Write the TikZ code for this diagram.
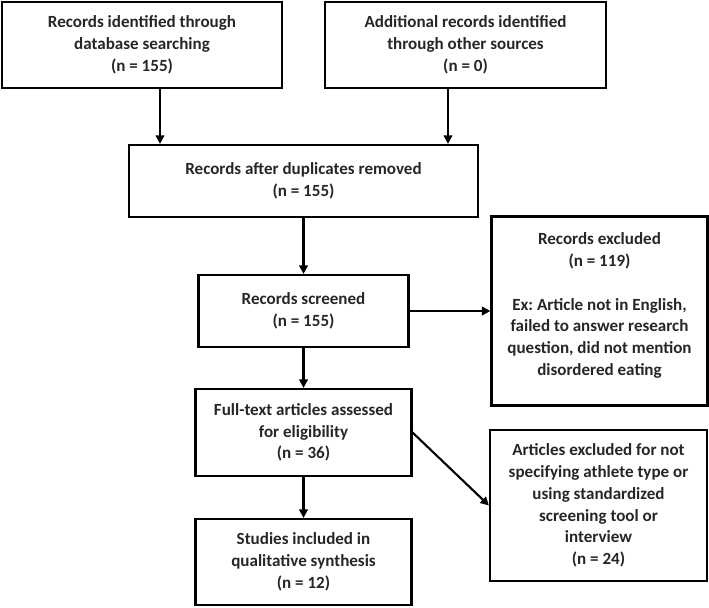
\documentclass[tikz,border=0pt]{standalone}
\usepackage{fontspec}
\setmainfont{Carlito}
\usepackage{tikz}
\usetikzlibrary{arrows.meta}

\begin{document}
\begin{tikzpicture}[
    box/.style={draw,very thick,align=center,inner sep=2pt,
      font=\bfseries\fontsize{9.7}{12.4}\selectfont\frenchspacing,text=black!85},
    >={Triangle[length=0.17cm,width=0.17cm]}]
    \useasboundingbox (0,0) rectangle (14.18,-12.16);

    \node[box,minimum width=5.6cm,minimum height=1.72cm] (dbsearch) at (2.84,-0.90)
      {Records identified through\\database searching\\(n = 155)};
    \node[box,minimum width=5.62cm,minimum height=1.72cm] (othersrc) [right of=dbsearch,node distance=6.47cm]
      {Additional records identified\\through other sources\\(n = 0)};

    \node[box,minimum width=6.98cm,minimum height=1.44cm] (dupl) at (6.07,-3.62)
      {Records after duplicates removed\\(n = 155)};
    \node[box,minimum width=4.2cm,minimum height=1.44cm] (screened) [below of=dupl,node distance=2.6cm]
      {Records screened\\(n = 155)};
    \node[box,minimum width=4.32cm,minimum height=3.78cm] (recexcl) [right of=screened,node distance=5.92cm]
      {Records excluded\\(n = 119)\\[12.4pt]Ex: Article not in English,\\failed to answer research\\question, did not mention\\disordered eating\\[-4.6pt]};

    \node[box,minimum width=4.32cm,minimum height=1.74cm] (fulltext) [below of=screened,node distance=2.43cm]
      {Full-text articles assessed\\for eligibility\\(n = 36)};
    \node[box,minimum width=4.32cm,minimum height=1.72cm] (studies) [below of=fulltext,node distance=2.59cm]
      {Studies included in\\qualitative synthesis\\(n = 12)};
    \node[box,minimum width=4.34cm,minimum height=3.02cm] (artexcl) at (11.97,-10.11)
      {Articles excluded for not\\specifying athlete type or\\using standardized\\screening tool or\\interview\\(n = 24)};

    \draw[->,very thick] ([xshift=0.36cm]dbsearch.south) -- ([xshift=0.36cm]dbsearch.south |- dupl.north);
    \draw[->,very thick] ([xshift=-0.35cm]othersrc.south) -- ([xshift=-0.35cm]othersrc.south |- dupl.north);
    \draw[->,very thick] (dupl) -- (screened);
    \draw[->,very thick] (screened) -- (recexcl);
    \draw[->,very thick] (screened) -- (fulltext);
    \draw[->,very thick] (fulltext.east) -- (artexcl.west);
    \draw[->,very thick] (fulltext) -- (studies);
\end{tikzpicture}
\end{document}
